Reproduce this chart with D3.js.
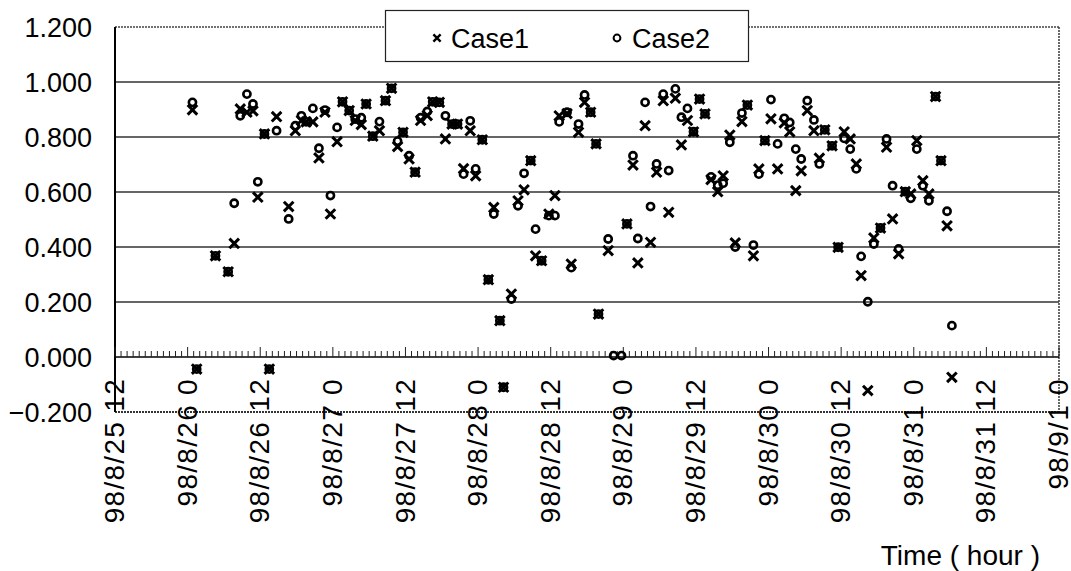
<!DOCTYPE html>
<html>
<head>
<meta charset="utf-8">
<script src="https://cdn.jsdelivr.net/npm/d3@7"></script>
<style>
  body { margin: 0; background: #fff; }
  svg { display: block; font-family: "Liberation Sans", Arial, sans-serif; }
</style>
</head>
<body>
<svg id="chart"></svg>
<script>
// hours counted from 98/8/25 12:00
const hours = [
  12.8, 13.5, 16.6, 18.7, 19.7, 20.7, 21.8, 22.8, 23.6, 24.7,
  25.5, 26.7, 28.7, 29.8, 30.8, 31.6, 32.7, 33.7, 34.7, 35.6,
  36.7, 37.6, 38.7, 39.7, 40.7, 41.5, 42.6, 43.7, 44.7, 45.7,
  46.7, 47.6, 48.6, 49.6, 50.5, 51.6, 52.5, 53.6, 54.6, 55.7,
  56.6, 57.6, 58.7, 59.6, 60.7, 61.7, 62.6, 63.6, 64.2, 65.5,
  66.6, 67.6, 68.7, 69.5, 70.5, 71.7, 72.7, 73.4, 74.7, 75.4,
  76.6, 77.6, 78.6, 79.5, 79.9, 81.5, 82.4, 83.7, 84.6, 85.6,
  86.4, 87.6, 88.5, 89.5, 90.6, 91.5, 92.6, 93.6, 94.6, 95.6,
  96.6, 97.5, 98.5, 99.6, 100.5, 101.6, 102.5, 103.6, 104.5, 105.5,
  106.4, 107.4, 108.4, 109.5, 110.6, 111.5, 112.5, 113.4, 114.4, 115.5,
  116.4, 117.3, 118.5, 119.5, 120.5, 121.5, 122.5, 123.3, 124.4, 125.4,
  126.5, 127.5, 128.5, 129.5, 130.6, 131.5, 132.5, 133.5, 134.5, 135.6,
  136.5, 137.5, 138.3
];

const case1 = [
  0.899, -0.044, 0.368, 0.310, 0.413, 0.902, 0.890, 0.895, 0.581, 0.811,
  -0.044, 0.874, 0.547, 0.823, 0.860, 0.855, 0.855, 0.724, 0.890, 0.520,
  0.783, 0.928, 0.896, 0.860, 0.845, 0.920, 0.803, 0.823, 0.932, 0.977,
  0.765, 0.817, 0.720, 0.672, 0.860, 0.878, 0.928, 0.926, 0.793, 0.847,
  0.847, 0.685, 0.823, 0.659, 0.790, 0.281, 0.544, 0.132, -0.110, 0.229,
  0.568, 0.608, 0.714, 0.368, 0.350, 0.520, 0.587, 0.877, 0.885, 0.338,
  0.817, 0.926, 0.890, 0.775, 0.156, 0.387, null, null, 0.484, 0.698,
  0.342, 0.841, 0.417, 0.672, 0.932, 0.526, 0.941, 0.771, 0.860, 0.819,
  0.938, 0.884, 0.645, 0.601, 0.659, 0.807, 0.415, 0.856, 0.916, 0.368,
  0.684, 0.787, 0.866, 0.684, 0.851, 0.819, 0.605, 0.677, 0.896, 0.823,
  0.723, 0.826, 0.768, 0.399, 0.819, 0.793, 0.702, 0.296, -0.122, 0.433,
  0.469, 0.763, 0.502, 0.375, 0.601, 0.593, 0.787, 0.641, 0.593, 0.947,
  0.714, 0.477, -0.074
];

const case2 = [
  0.926, -0.044, 0.368, 0.310, 0.559, 0.877, 0.956, 0.920, 0.637, 0.811,
  -0.044, 0.823, 0.502, 0.841, 0.877, 0.855, 0.904, 0.759, 0.898, 0.587,
  0.835, 0.928, 0.896, 0.865, 0.870, 0.920, 0.803, 0.856, 0.932, 0.977,
  0.785, 0.817, 0.732, 0.672, 0.870, 0.893, 0.928, 0.926, 0.877, 0.847,
  0.847, 0.665, 0.859, 0.684, 0.790, 0.281, 0.520, 0.132, -0.110, 0.211,
  0.550, 0.668, 0.714, 0.465, 0.350, 0.514, 0.514, 0.855, 0.890, 0.325,
  0.847, 0.953, 0.890, 0.775, 0.156, 0.429, 0.005, 0.005, 0.484, 0.732,
  0.431, 0.926, 0.547, 0.702, 0.956, 0.678, 0.975, 0.872, 0.904, 0.819,
  0.938, 0.884, 0.655, 0.625, 0.632, 0.781, 0.400, 0.887, 0.916, 0.407,
  0.665, 0.787, 0.936, 0.775, 0.868, 0.853, 0.756, 0.720, 0.932, 0.862,
  0.702, 0.826, 0.768, 0.399, 0.795, 0.756, 0.684, 0.366, 0.201, 0.411,
  0.469, 0.793, 0.623, 0.393, 0.601, 0.577, 0.756, 0.623, 0.568, 0.947,
  0.714, 0.530, 0.114
];

const seriesNames = ["Case1", "Case2"];
const yTicks = [-0.2, 0, 0.2, 0.4, 0.6, 0.8, 1.0, 1.2];
const xTickHours = [0, 12, 24, 36, 48, 60, 72, 84, 96, 108, 120, 132, 144, 156];
const xTickLabels = [
  "98/8/25 12", "98/8/26 0", "98/8/26 12", "98/8/27 0", "98/8/27 12",
  "98/8/28 0", "98/8/28 12", "98/8/29 0", "98/8/29 12", "98/8/30 0",
  "98/8/30 12", "98/8/31 0", "98/8/31 12", "98/9/1 0"
];
const xTitle = "Time ( hour )";

const width = 1071;
const height = 571;
const margin = { top: 27, right: 12, bottom: 159, left: 115 };

const svg = d3.select("#chart")
  .attr("width", width)
  .attr("height", height);

const x = d3.scaleLinear()
  .domain([0, 156])
  .range([margin.left, width - margin.right]);

const y = d3.scaleLinear()
  .domain([-0.2, 1.2])
  .range([height - margin.bottom, margin.top]);

const fmt = d3.format(".3f");

// gridlines
svg.append("g")
  .selectAll("line")
  .data(yTicks.filter(v => v > 0.01 && v < 1.1))
  .join("line")
  .attr("x1", x(0))
  .attr("x2", x(156))
  .attr("y1", d => y(d))
  .attr("y2", d => y(d))
  .attr("stroke", "#333")
  .attr("stroke-width", 1.3);

// frame: top and right dotted, bottom hatched, left solid
svg.append("line")
  .attr("x1", x(0)).attr("x2", x(156))
  .attr("y1", y(1.2)).attr("y2", y(1.2))
  .attr("stroke", "#444").attr("stroke-width", 1.6)
  .attr("stroke-dasharray", "2,1");

svg.append("line")
  .attr("x1", x(156)).attr("x2", x(156))
  .attr("y1", y(1.2)).attr("y2", y(-0.2))
  .attr("stroke", "#444").attr("stroke-width", 1.6)
  .attr("stroke-dasharray", "2,1");

svg.append("line")
  .attr("x1", x(0)).attr("x2", x(156))
  .attr("y1", y(-0.2)).attr("y2", y(-0.2))
  .attr("stroke", "#333").attr("stroke-width", 2.2)
  .attr("stroke-dasharray", "2,1");

svg.append("line")
  .attr("x1", x(0)).attr("x2", x(0))
  .attr("y1", y(1.2)).attr("y2", y(-0.2))
  .attr("stroke", "#000").attr("stroke-width", 2);

// x axis on the zero line with hourly ticks
const zeroY = y(0);
svg.append("line")
  .attr("x1", x(0)).attr("x2", x(156))
  .attr("y1", zeroY).attr("y2", zeroY)
  .attr("stroke", "#000").attr("stroke-width", 1.5);

svg.append("g")
  .selectAll("line")
  .data(d3.range(0, 157))
  .join("line")
  .attr("x1", d => x(d))
  .attr("x2", d => x(d))
  .attr("y1", zeroY)
  .attr("y2", d => zeroY - (d % 12 === 0 ? 10 : 6))
  .attr("stroke", "#222")
  .attr("stroke-width", 1);

// y labels
svg.append("g")
  .selectAll("text")
  .data(yTicks)
  .join("text")
  .attr("x", 92)
  .attr("y", d => y(d))
  .attr("dy", "0.36em")
  .attr("text-anchor", "end")
  .attr("font-size", "27px")
  .attr("fill", "#000")
  .text(d => fmt(d));

// x labels, rotated
svg.append("g")
  .selectAll("text")
  .data(xTickHours)
  .join("text")
  .attr("transform", d => `translate(${x(d) - 1}, 378) rotate(-90)`)
  .attr("dy", "0.36em")
  .attr("text-anchor", "end")
  .attr("font-size", "28px")
  .attr("letter-spacing", "1.3px")
  .attr("fill", "#000")
  .text((d, i) => xTickLabels[i]);

svg.append("text")
  .attr("x", 1040)
  .attr("y", 565)
  .attr("text-anchor", "end")
  .attr("font-size", "28px")
  .attr("fill", "#000")
  .text(xTitle);

// points
const points = hours.map((h, i) => ({ h, c1: case1[i], c2: case2[i] }));
const xPath = r => `M${-r},${-r}L${r},${r}M${-r},${r}L${r},${-r}`;

svg.append("g")
  .selectAll("circle")
  .data(points.filter(d => d.c2 !== null))
  .join("circle")
  .attr("cx", d => x(d.h))
  .attr("cy", d => y(d.c2))
  .attr("r", 3.6)
  .attr("fill", "none")
  .attr("stroke", "#000")
  .attr("stroke-width", 2.6);

svg.append("g")
  .selectAll("path")
  .data(points.filter(d => d.c1 !== null))
  .join("path")
  .attr("transform", d => `translate(${x(d.h)},${y(d.c1)})`)
  .attr("d", xPath(4.8))
  .attr("fill", "none")
  .attr("stroke", "#000")
  .attr("stroke-width", 3);

// legend
const legend = svg.append("g");
legend.append("rect")
  .attr("x", 385.5)
  .attr("y", 10.5)
  .attr("width", 363)
  .attr("height", 51)
  .attr("fill", "#fff")
  .attr("stroke", "#222")
  .attr("stroke-width", 1.2);

legend.append("path")
  .attr("transform", "translate(437,38)")
  .attr("d", xPath(3.6))
  .attr("stroke", "#000")
  .attr("stroke-width", 2.4);

legend.append("circle")
  .attr("cx", 617)
  .attr("cy", 38)
  .attr("r", 3.4)
  .attr("fill", "none")
  .attr("stroke", "#000")
  .attr("stroke-width", 2);

legend.selectAll("text")
  .data(seriesNames)
  .join("text")
  .attr("x", (d, i) => i === 0 ? 451 : 632)
  .attr("y", 38)
  .attr("dy", "0.36em")
  .attr("font-size", "27px")
  .attr("fill", "#000")
  .text(d => d);
</script>
</body>
</html>
